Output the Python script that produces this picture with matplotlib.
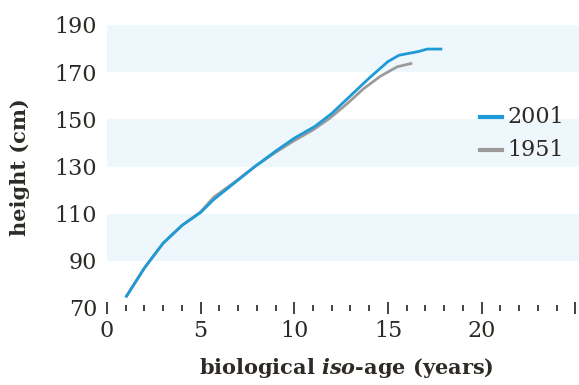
import matplotlib
matplotlib.use("Agg")
import matplotlib.pyplot as plt
from matplotlib.ticker import MultipleLocator

# data
age_2001 = [1.0, 2.0, 3.0, 4.0, 5.0, 5.7, 6.8, 7.9, 9.0, 10.0, 11.1, 12.0, 13.0, 14.0, 15.0, 15.6, 16.6, 17.1, 17.9]
height_2001 = [74.5, 87.0, 97.5, 105.0, 110.5, 116.0, 123.0, 130.0, 136.5, 142.0, 147.0, 152.5, 160.0, 167.5, 174.5, 177.2, 178.7, 179.8, 179.8]
age_1951 = [1.0, 2.0, 3.0, 4.0, 5.0, 5.7, 6.8, 7.9, 9.0, 10.0, 11.0, 11.9, 12.8, 13.7, 14.6, 15.5, 16.3]
height_1951 = [74.5, 87.0, 97.5, 105.0, 110.8, 117.0, 123.3, 130.0, 136.0, 141.0, 145.5, 150.5, 156.5, 163.0, 168.3, 172.3, 173.8]
band_ranges = [(90, 110), (130, 150), (170, 190)]
yticks = [70, 90, 110, 130, 150, 170, 190]
xticks = [0, 5, 10, 15, 20]
series_labels = ["2001", "1951"]

blue = "#1e9ad6"
gray = "#9b9b9b"
txt = "#2e2a26"
FONT = "DejaVu Serif"

plt.rcParams['mathtext.fontset'] = 'custom'
plt.rcParams['mathtext.bfit'] = 'DejaVu Serif:bold:italic'
plt.rcParams['mathtext.bf'] = 'DejaVu Serif:bold'
plt.rcParams['mathtext.rm'] = 'DejaVu Serif:bold'

fig = plt.figure(figsize=(5.79, 3.85), dpi=100)
ax = fig.add_axes([107/579, (385-308)/385, 1 - 107/579, (308-25)/385])
ax.set_xlim(0, 25.2)
ax.set_ylim(70, 190)

for lo, hi in band_ranges:
    ax.axhspan(lo, hi, color="#eef7fb", lw=0, zorder=0)

ax.plot(age_1951, height_1951, color=gray, lw=2.0, zorder=2, solid_capstyle='butt')
ax.plot(age_2001, height_2001, color=blue, lw=2.0, zorder=3, solid_capstyle='butt')

for s in ax.spines.values():
    s.set_visible(False)

ax.set_yticks(yticks)
ax.set_xticks(xticks + [25])
ax.set_xticklabels([str(v) for v in xticks] + [""])
ax.xaxis.set_minor_locator(MultipleLocator(1))
ax.tick_params(axis='y', length=0, pad=7, labelsize=16, labelcolor=txt)
ax.tick_params(axis='x', which='major', direction='inout', length=9, width=1.2, color="#222", pad=4, labelsize=16, labelcolor=txt)
ax.tick_params(axis='x', which='minor', direction='inout', length=4, width=1.2, color="#222")
for lab in ax.get_xticklabels() + ax.get_yticklabels():
    lab.set_fontfamily(FONT)

fig.text(20/579, 1 - 167/385, "height (cm)", fontsize=15, fontweight='bold', family=FONT,
         color=txt, rotation=90, ha='center', va='center')
fig.text(346/579, 1 - 368/385, r"biological $\mathbfit{iso}$-age (years)", fontsize=15,
         fontweight='bold', family=FONT, color=txt, ha='center', va='center')

# legend
for i, (lab, col) in enumerate(zip(series_labels, [blue, gray])):
    y = 1 - (117 + 33*i)/385
    fig.add_artist(plt.Line2D([480/579, 502/579], [y, y], color=col, lw=3, transform=fig.transFigure))
    fig.text(507/579, y, lab, fontsize=16, family=FONT, color=txt, ha='left', va='center')

fig.savefig("out.png", dpi=100)
